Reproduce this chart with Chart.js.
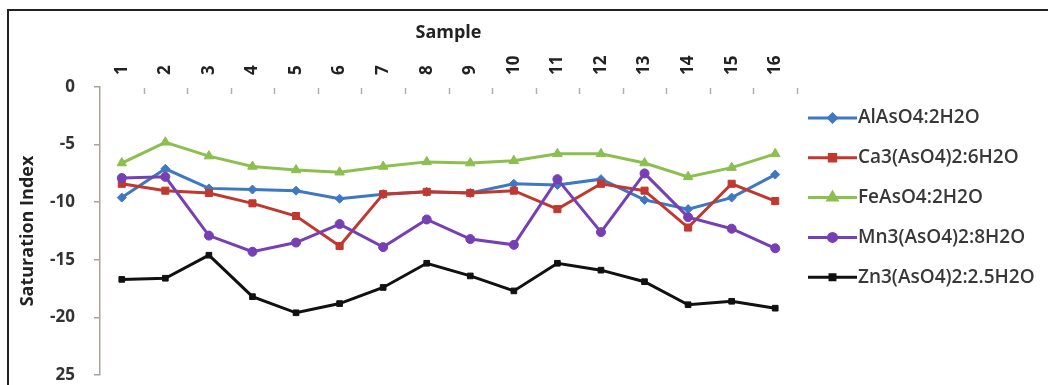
<!DOCTYPE html>
<html>
<head>
<meta charset="utf-8">
<script src="https://cdn.jsdelivr.net/npm/chart.js@4.4.1/dist/chart.umd.min.js"></script>
<style>
  html, body { margin: 0; padding: 0; background: #fff; }
  #wrap { width: 1048px; height: 385px; position: relative; }
</style>
</head>
<body>
<div id="wrap"><canvas id="c" width="1048" height="385"></canvas></div>
<script>
// Sample numbers along the top axis
const samples = ['1','2','3','4','5','6','7','8','9','10','11','12','13','14','15','16'];

// Saturation index of each mineral phase per sample
const alAsO4 = [-9.6, -7.1, -8.8, -8.9, -9.0, -9.7, -9.3, -9.1, -9.2, -8.4, -8.5, -8.0, -9.8, -10.6, -9.6, -7.6];
const ca3AsO4 = [-8.4, -9.0, -9.2, -10.1, -11.2, -13.8, -9.3, -9.1, -9.2, -9.0, -10.6, -8.4, -9.0, -12.2, -8.4, -9.9];
const feAsO4 = [-6.6, -4.8, -6.0, -6.9, -7.2, -7.4, -6.9, -6.5, -6.6, -6.4, -5.8, -5.8, -6.6, -7.8, -7.0, -5.8];
const mn3AsO4 = [-7.9, -7.8, -12.9, -14.3, -13.5, -11.9, -13.9, -11.5, -13.2, -13.7, -8.0, -12.6, -7.5, -11.3, -12.3, -14.0];
const zn3AsO4 = [-16.7, -16.6, -14.6, -18.2, -19.6, -18.8, -17.4, -15.3, -16.4, -17.7, -15.3, -15.9, -16.9, -18.9, -18.6, -19.2];

const seriesNames = ['AlAsO4:2H2O', 'Ca3(AsO4)2:6H2O', 'FeAsO4:2H2O', 'Mn3(AsO4)2:8H2O', 'Zn3(AsO4)2:2.5H2O'];

// Value-axis labels, from 0 downwards
const yTickLabels = ['0', '-5', '-10', '-15', '-20', '25'];

const styles = [
  { color: '#3f78c2', point: 'rectRot', r: 4.5 },
  { color: '#c0382f', point: 'rect', r: 5 },
  { color: '#8bbf4e', point: 'triangle', r: 5.5 },
  { color: '#7640b4', point: 'circle', r: 4.5 },
  { color: '#111111', point: 'rect', r: 4 }
];
const values = [alAsO4, ca3AsO4, feAsO4, mn3AsO4, zn3AsO4];

const datasets = values.map((v, i) => ({
  label: seriesNames[i],
  data: v,
  borderColor: styles[i].color,
  backgroundColor: styles[i].color,
  borderWidth: 3,
  pointStyle: styles[i].point,
  pointRadius: styles[i].r,
  pointBorderWidth: 1,
  tension: 0,
  order: values.length - i
}));

const FONT = '"Open Sans", "DejaVu Sans", sans-serif';
const X_TICK_SIZE = 17;

// Frame, inner tick marks on the top axis, and the legend on the right
const decor = {
  id: 'decor',
  beforeDraw(chart) {
    const ctx = chart.ctx;
    ctx.save();
    ctx.fillStyle = '#fff';
    ctx.fillRect(0, 0, chart.width, chart.height);
    ctx.strokeStyle = '#222';
    ctx.lineWidth = 2;
    ctx.strokeRect(8, 10, 1200, 600);
    ctx.restore();
  },
  afterDraw(chart) {
    const ctx = chart.ctx;
    const xs = chart.scales.x;
    const top = chart.chartArea.top;
    const gap = xs.getPixelForValue(1) - xs.getPixelForValue(0);
    ctx.save();
    ctx.strokeStyle = '#b4aea8';
    ctx.lineWidth = 1.5;
    for (let i = 0; i < samples.length; i++) {
      const x = xs.getPixelForValue(i) + gap / 2;
      ctx.beginPath();
      ctx.moveTo(Math.round(x) + 0.5, top + 1);
      ctx.lineTo(Math.round(x) + 0.5, top + 7);
      ctx.stroke();
    }
    // legend
    const lx0 = 808, lx1 = 857, ly0 = 118, step = 39.8;
    ctx.font = '600 19px ' + FONT;
    ctx.textBaseline = 'middle';
    ctx.textAlign = 'left';
    chart.data.datasets.forEach((ds, i) => {
      const y = ly0 + i * step;
      ctx.strokeStyle = ds.borderColor;
      ctx.lineWidth = 3;
      ctx.beginPath();
      ctx.moveTo(lx0, y);
      ctx.lineTo(lx1, y);
      ctx.stroke();
      ctx.fillStyle = ds.borderColor;
      Chart.helpers.drawPoint(ctx, {
        pointStyle: ds.pointStyle,
        radius: ds.pointRadius - 0.5,
        borderWidth: 1,
        rotation: 0
      }, (lx0 + lx1) / 2, y);
      ctx.fillStyle = '#383838';
      ctx.fillText(ds.label, lx1 + 1, y);
    });
    ctx.restore();
  }
};

new Chart(document.getElementById('c'), {
  type: 'line',
  data: { labels: samples, datasets },
  options: {
    responsive: false,
    animation: false,
    devicePixelRatio: 1,
    layout: { padding: { left: 0, top: 10, right: 251, bottom: 0 } },
    plugins: { legend: { display: false }, tooltip: { enabled: false } },
    scales: {
      x: {
        type: 'category',
        position: 'top',
        offset: true,
        grid: { display: true, drawOnChartArea: false, drawTicks: false },
        border: { display: false },
        ticks: {
          minRotation: 90, maxRotation: 90, padding: 12,
          labelOffset: X_TICK_SIZE * 1.2,
          color: '#222',
          font: { family: FONT, size: X_TICK_SIZE, weight: 'bold' }
        },
        title: {
          display: true, text: 'Sample', color: '#222',
          padding: { top: 12, bottom: 0 },
          font: { family: FONT, size: 18, weight: 'bold' }
        },
        afterFit(s) { s.height = 77; }
      },
      y: {
        min: -25, max: 0,
        ticks: {
          stepSize: 5, padding: 19, color: '#333',
          font: { family: FONT, size: 17, weight: 'bold' },
          callback: (v) => yTickLabels[Math.round(-v / 5)]
        },
        grid: { drawOnChartArea: false, drawTicks: true, tickLength: 6, color: '#aaa39c', lineWidth: 1.5 },
        border: { display: true, color: '#aaa39c', width: 1.5 },
        title: {
          display: true, text: 'Saturation Index', color: '#222',
          padding: { top: 17, bottom: 0 },
          font: { family: FONT, size: 18, weight: 'bold' }
        },
        afterFit(s) { s.width = 100; s.paddingBottom = 10; s.paddingTop = 10; }
      }
    }
  },
  plugins: [decor]
});
</script>
</body>
</html>
